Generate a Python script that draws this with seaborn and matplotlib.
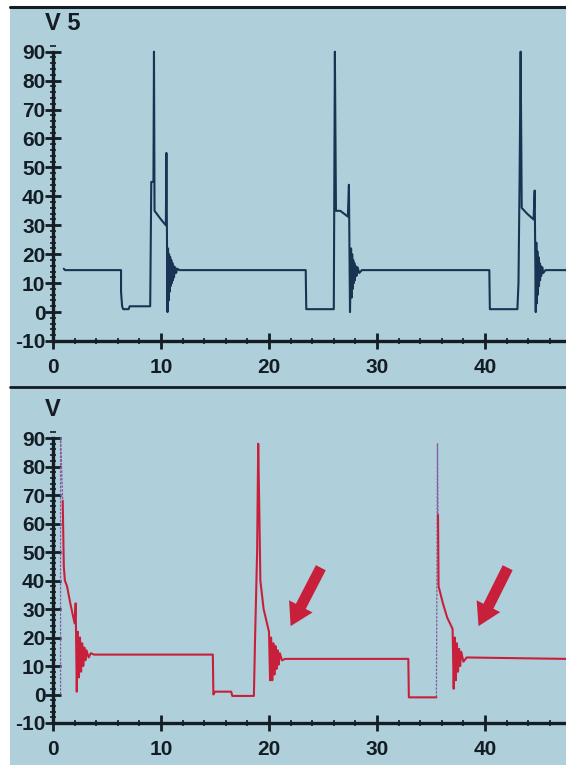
import numpy as np
import pandas as pd
import matplotlib
matplotlib.use("Agg")
import matplotlib.pyplot as plt
from matplotlib.patches import Rectangle
from matplotlib.lines import Line2D
from matplotlib.ticker import MultipleLocator
import seaborn as sns

# ── palette ────────────────────────────────────────────
SCREEN = "#AFD0DB"
INK    = "#141C24"
NAVY   = "#1B3352"
RED    = "#C8203A"
PURPLE = "#8A5A9E"

# ── data: top trace (V5) ───────────────────────────────
top_t = [1.0, 1.1, 6.3, 6.3, 6.4, 6.5, 7.0, 7.1, 9.0, 9.1, 9.3, 9.35, 9.4,
         9.6, 10.0, 10.45, 10.5, 10.6, 10.65, 10.7, 10.75, 10.8, 10.85,
         10.9, 10.95, 11.0, 11.05, 11.1, 11.15, 11.2, 11.3, 11.4, 11.5,
         11.7, 23.4, 23.45, 25.9, 26.0, 26.1, 26.2, 26.6, 27.3, 27.4, 27.5,
         27.6, 27.65, 27.7, 27.75, 27.8, 27.85, 27.9, 27.95, 28.0, 28.1,
         28.2, 28.35, 28.6, 40.4, 40.45, 43.0, 43.1, 43.2, 43.3, 43.4,
         43.9, 44.5, 44.6, 44.7, 44.75, 44.8, 44.85, 44.9, 44.95, 45.0,
         45.05, 45.1, 45.15, 45.2, 45.3, 45.4, 45.6, 47.5]
top_v = [15, 14.5, 14.5, 7, 2, 1, 1, 2, 2, 45, 45, 90, 35,
         34, 32, 30, 55, 0, 22, 4, 20, 7, 19,
         9, 18, 10, 17, 11, 16, 12, 15.5, 13.5, 15,
         14.5, 14.5, 1, 1, 1, 90, 35, 35, 33, 44, 0,
         22, 5, 20, 8, 18, 10, 17, 11, 16, 12.5,
         15.5, 13.5, 14.5, 14.5, 1, 1, 10, 45, 90, 36,
         34, 32, 42, 0, 24, 3, 21, 6, 19, 9,
         17, 11, 16, 12.5, 15.5, 13.5, 14.5, 14.5]

# ── data: bottom trace (V), red pieces ─────────────────
bot_t = [0.9, 1.0, 1.1, 1.3, 1.6, 2.0, 2.1, 2.2, 2.3, 2.4, 2.5,
         2.6, 2.7, 2.8, 2.9, 3.0, 3.1, 3.3, 3.5, 3.8, 14.8, 14.85, 15.0,
         16.5, 16.6, 18.6, 18.7, 18.9, 19.0, 19.1, 19.2, 19.5, 20.0, 20.1,
         20.2, 20.3, 20.4, 20.5, 20.6, 20.7, 20.8, 20.9, 21.0, 21.2, 21.5,
         32.9, 32.95, 35.5,
         35.65, 35.7, 36.1, 36.5, 37.0, 37.1,
         37.2, 37.3, 37.4, 37.5, 37.6, 37.7, 37.8, 38.0, 38.3, 47.5]
bot_v = [68, 45, 40, 38, 32, 25, 32, 1, 22, 6, 20,
         8, 18, 10, 16.5, 12, 15.5, 13, 14.5, 14, 14, 0, 1,
         1, -0.5, -0.5, 18, 50, 88, 65, 40, 30, 22, 5,
         20, 5, 18, 7, 17, 9, 15.5, 10.5, 14.5, 12, 12.5,
         12.5, -1, -1,
         63, 38, 32, 27, 23, 2,
         20, 5, 18, 8, 16, 10, 15, 11.5, 13, 12.5]
bot_piece = [0] * 48 + [1] * 16

# thin (faint) spike strokes of the bottom trace
spike_t = [0.7, 0.7, 0.9, 35.5, 35.6, 35.65]
spike_v = [0, 90, 68, -1, 88, 63]
spike_piece = [0, 0, 0, 1, 1, 1]

y_ticks = [-10, 0, 10, 20, 30, 40, 50, 60, 70, 80, 90]
x_ticks = [0, 10, 20, 30, 40]
arrow_tips  = [(22.0, 24.0), (39.4, 24.0)]
arrow_tails = [(24.8, 44.5), (42.1, 44.5)]

sns.set_style("ticks")
plt.rcParams["font.family"] = ["Liberation Sans Narrow", "Liberation Sans",
                               "DejaVu Sans"]
plt.rcParams["font.weight"] = "bold"

W, H = 566, 765
fig = plt.figure(figsize=(W / 100, H / 100), dpi=100, facecolor="white")

# screen background, frame line and panel divider
fig.patches.append(Rectangle((10 / W, 0), 1 - 10 / W, 1 - 6 / H,
                             transform=fig.transFigure, facecolor=SCREEN,
                             edgecolor="none", zorder=-2))
for ypix, lw in [(7, 2.2), (387, 2.0)]:
    fig.lines.append(Line2D([10 / W, 1], [1 - ypix / H] * 2,
                            transform=fig.transFigure, color=INK, lw=lw,
                            zorder=-1))


def style_axis(ax):
    ax.set_facecolor("none")
    sns.despine(ax=ax)
    ax.set_xlim(0, 47.5)
    ax.set_ylim(-10, 93)
    ax.spines["left"].set_bounds(-10, 90)
    for s in ["left", "bottom"]:
        ax.spines[s].set_linewidth(2.4)
        ax.spines[s].set_color(INK)
    ax.set_xticks(x_ticks)
    ax.set_yticks(y_ticks)
    ax.set_yticklabels([str(v) for v in y_ticks])
    ax.xaxis.set_minor_locator(MultipleLocator(2))
    ax.yaxis.set_minor_locator(MultipleLocator(2))
    ax.tick_params(axis="both", which="major", direction="inout", length=11,
                   width=2.0, color=INK, labelsize=15, labelcolor=INK)
    ax.tick_params(axis="x", which="major", pad=7)
    ax.tick_params(axis="y", which="major", pad=0)
    ax.tick_params(axis="both", which="minor", direction="inout", length=5,
                   width=1.2, color=INK)
    ax.set_xlabel("")
    ax.set_ylabel("")
    for lab in ax.get_xticklabels() + ax.get_yticklabels():
        lab.set_fontweight("bold")


# ── top panel ──────────────────────────────────────────
ax1 = fig.add_axes([53 / W, (H - 341) / H, (W - 53) / W, 298 / H])
sns.lineplot(x=top_t, y=top_v, sort=False, estimator=None, ax=ax1,
             color=NAVY, linewidth=1.5)
style_axis(ax1)
fig.text(45 / W, 1 - 24 / H, "V 5", fontsize=17, fontweight="bold",
         color=INK, va="center", ha="left")

# ── bottom panel ───────────────────────────────────────
ax2 = fig.add_axes([53 / W, (H - 723) / H, (W - 53) / W, 293.5 / H])
bot = pd.DataFrame({"t": bot_t, "v": bot_v, "piece": bot_piece})
spikes = pd.DataFrame({"t": spike_t, "v": spike_v, "piece": spike_piece})
sns.lineplot(data=spikes, x="t", y="v", units="piece", sort=False,
             estimator=None, ax=ax2, color=PURPLE, linewidth=0.9,
             linestyle=(0, (2, 1)))
sns.lineplot(data=bot, x="t", y="v", units="piece", sort=False,
             estimator=None, ax=ax2, color=RED, linewidth=1.5)
style_axis(ax2)
fig.text(45 / W, 1 - 409 / H, "V", fontsize=17, fontweight="bold",
         color=INK, va="center", ha="left")

for tip, tail in zip(arrow_tips, arrow_tails):
    ax2.annotate("", xy=tip, xytext=tail,
                 arrowprops=dict(facecolor=RED, edgecolor="none", width=8,
                                 headwidth=19, headlength=16, shrink=0))

fig.savefig("out.png", dpi=100, facecolor="white")
